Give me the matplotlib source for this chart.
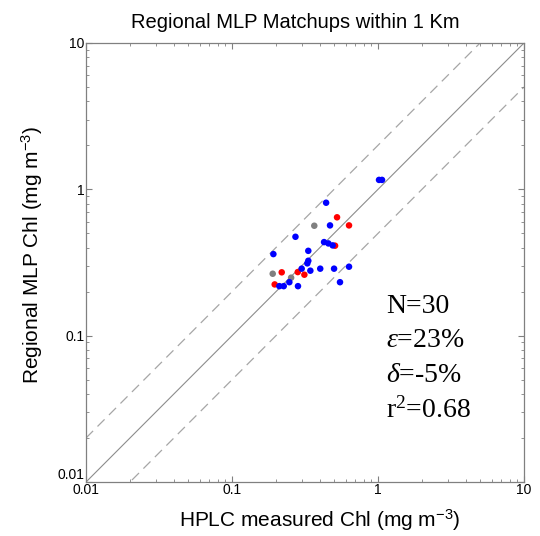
import matplotlib
matplotlib.use("Agg")
import matplotlib.pyplot as plt
import numpy as np

plt.rcParams['font.family'] = ['Liberation Sans', 'DejaVu Sans']
plt.rcParams['mathtext.fontset'] = 'custom'
plt.rcParams['mathtext.rm'] = 'Liberation Serif'
plt.rcParams['mathtext.it'] = 'Liberation Serif:italic'
plt.rcParams['mathtext.sf'] = 'Liberation Sans'

blue_x = [1.016, 1.065, 0.441, 0.469, 0.272, 0.427, 0.457, 0.489, 0.333, 0.192,
          0.333, 0.328, 0.300, 0.344, 0.402, 0.500, 0.633, 0.247, 0.211, 0.226,
          0.283, 0.549]
blue_y = [1.16, 1.16, 0.81, 0.567, 0.474, 0.436, 0.427, 0.414, 0.380, 0.361,
          0.325, 0.312, 0.287, 0.278, 0.287, 0.287, 0.296, 0.232, 0.218, 0.218,
          0.218, 0.232]
red_x = [0.524, 0.633, 0.508, 0.219, 0.282, 0.313, 0.196]
red_y = [0.644, 0.567, 0.412, 0.271, 0.272, 0.261, 0.224]
gray_x = [0.366, 0.190, 0.254]
gray_y = [0.564, 0.265, 0.249]

stats = ["N=30", r"$\mathit{\varepsilon}$=23%", r"$\mathit{\delta}$=-5%", r"r$^{2}$=0.68"]
title = "Regional MLP Matchups within 1 Km"
xlabel = "HPLC measured Chl (mg m$\\mathsf{^{-3}}$)"
ylabel = "Regional MLP Chl (mg m$\\mathsf{^{-3}}$)"
ticks = [0.01, 0.1, 1, 10]
tick_labels = ['0.01', '0.1', '1', '10']

fig = plt.figure(figsize=(5.4, 5.36), dpi=100)
ax = fig.add_axes([0.1593, 0.1007, 0.8111, 0.8191])
ax.set_xscale('log')
ax.set_yscale('log')
ax.set_xlim(0.01, 10)
ax.set_ylim(0.01, 10)

ref = np.array([0.01, 10])
ax.plot(ref, ref, color='#8c8c8c', lw=0.8, zorder=1)
ax.plot(ref, 2 * ref, color='#a6a6a6', lw=0.9, ls=(0, (8, 5)), zorder=1)
ax.plot(ref, 0.5 * ref, color='#a6a6a6', lw=0.9, ls=(0, (8, 5)), zorder=1)

ax.scatter(gray_x, gray_y, s=22, color='#808080', edgecolors='none', zorder=3)
ax.scatter(red_x, red_y, s=22, color='#ff0000', edgecolors='none', zorder=3)
ax.scatter(blue_x, blue_y, s=22, color='#0000ff', edgecolors='none', zorder=3)

for sp in ax.spines.values():
    sp.set_color('#808080')
    sp.set_linewidth(0.9)
ax.set_xticks(ticks)
ax.set_xticklabels(tick_labels, fontsize=10)
ax.set_yticks(ticks)
ax.set_yticklabels(tick_labels, fontsize=10)
ax.tick_params(which='both', direction='in', top=True, right=True, color='#808080')
ax.tick_params(which='major', length=4)
ax.tick_params(which='minor', length=2)
ax.tick_params(axis='x', pad=1)
ax.tick_params(axis='y', pad=1)
ax.get_yticklabels()[0].set_va('bottom')

fig.text(295 / 540, 1 - 22 / 536, title, fontsize=14.5, ha='center', va='center')
fig.text(320 / 540, 1 - 520 / 536, xlabel, fontsize=15, ha='center', va='center')
fig.text(32 / 540, 1 - 255 / 536, ylabel, fontsize=15, ha='center', va='center',
         rotation=90)

ys = [313, 347, 382, 418]
for s, yp in zip(stats, ys):
    fig.text(386 / 540, 1 - yp / 536, s, fontsize=20, family='Liberation Serif',
             ha='left', va='baseline')

fig.savefig('out.png', dpi=100)
